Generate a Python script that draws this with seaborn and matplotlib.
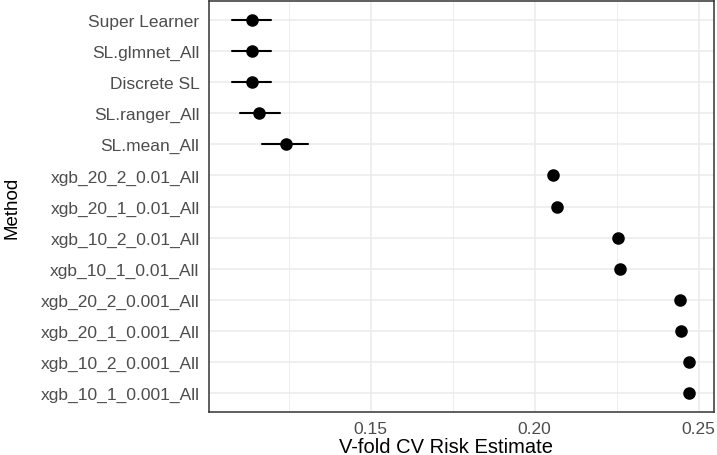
import pandas as pd
import numpy as np
import matplotlib
matplotlib.use("Agg")
import matplotlib.pyplot as plt
import seaborn as sns
from matplotlib.ticker import MultipleLocator

# CV risk per method
methods = [
    "Super Learner", "SL.glmnet_All", "Discrete SL", "SL.ranger_All", "SL.mean_All",
    "xgb_20_2_0.01_All", "xgb_20_1_0.01_All", "xgb_10_2_0.01_All", "xgb_10_1_0.01_All",
    "xgb_20_2_0.001_All", "xgb_20_1_0.001_All", "xgb_10_2_0.001_All", "xgb_10_1_0.001_All",
]
risk = [0.1137, 0.1137, 0.1137, 0.1159, 0.1242,
        0.2055, 0.2068, 0.2255, 0.2260,
        0.2443, 0.2447, 0.2470, 0.2470]
ci_low = [0.1078, 0.1078, 0.1078, 0.1101, 0.1170,
          0.2052, 0.2065, 0.2252, 0.2257,
          0.2441, 0.2445, 0.2468, 0.2468]
ci_high = [0.1196, 0.1196, 0.1196, 0.1224, 0.1310,
           0.2058, 0.2071, 0.2258, 0.2263,
           0.2445, 0.2449, 0.2472, 0.2472]

# long form: median of (low, est, high) = est, full range = CI
df = pd.DataFrame({
    "Method": methods * 3,
    "Risk": ci_low + risk + ci_high,
})

sns.set_style("white")
plt.rcParams["font.family"] = ["Liberation Sans", "DejaVu Sans"]

fig = plt.figure(figsize=(7.17, 4.56), dpi=100)
ax = fig.add_axes([0.2915, 0.0943, 0.7043, 0.9013])

sns.pointplot(
    data=df, x="Risk", y="Method", order=methods,
    estimator="median", errorbar=("pi", 100),
    color="black", linestyle="none", markers="o",
    markersize=7, err_kws={"linewidth": 1.5}, ax=ax,
)

ax.set_xlim(0.1007, 0.2547)
ax.set_ylim(len(methods) - 0.4, -0.6)
ax.xaxis.set_minor_locator(MultipleLocator(0.025))
ax.set_xticks([0.15, 0.20, 0.25])
ax.set_xticklabels(["0.15", "0.20", "0.25"])

ax.grid(True, which="major", color="#EBEBEB", linewidth=1.1)
ax.grid(True, which="minor", axis="x", color="#EBEBEB", linewidth=0.6)
ax.set_axisbelow(True)

for s in ax.spines.values():
    s.set_color("#333333")
    s.set_linewidth(1.1)

ax.tick_params(axis="both", which="major", length=3.8, width=1.1, color="#333333",
               labelsize=12.5, labelcolor="#4D4D4D", pad=3)
ax.tick_params(axis="x", which="minor", length=0)

ax.set_xlabel("V-fold CV Risk Estimate", fontsize=14.5, color="black")
ax.set_ylabel("Method", fontsize=13.5, color="black")
ax.xaxis.set_label_coords(0.47, -0.062)
ax.yaxis.set_label_coords(-0.374, 0.5)

fig.savefig("out.png", dpi=100)
